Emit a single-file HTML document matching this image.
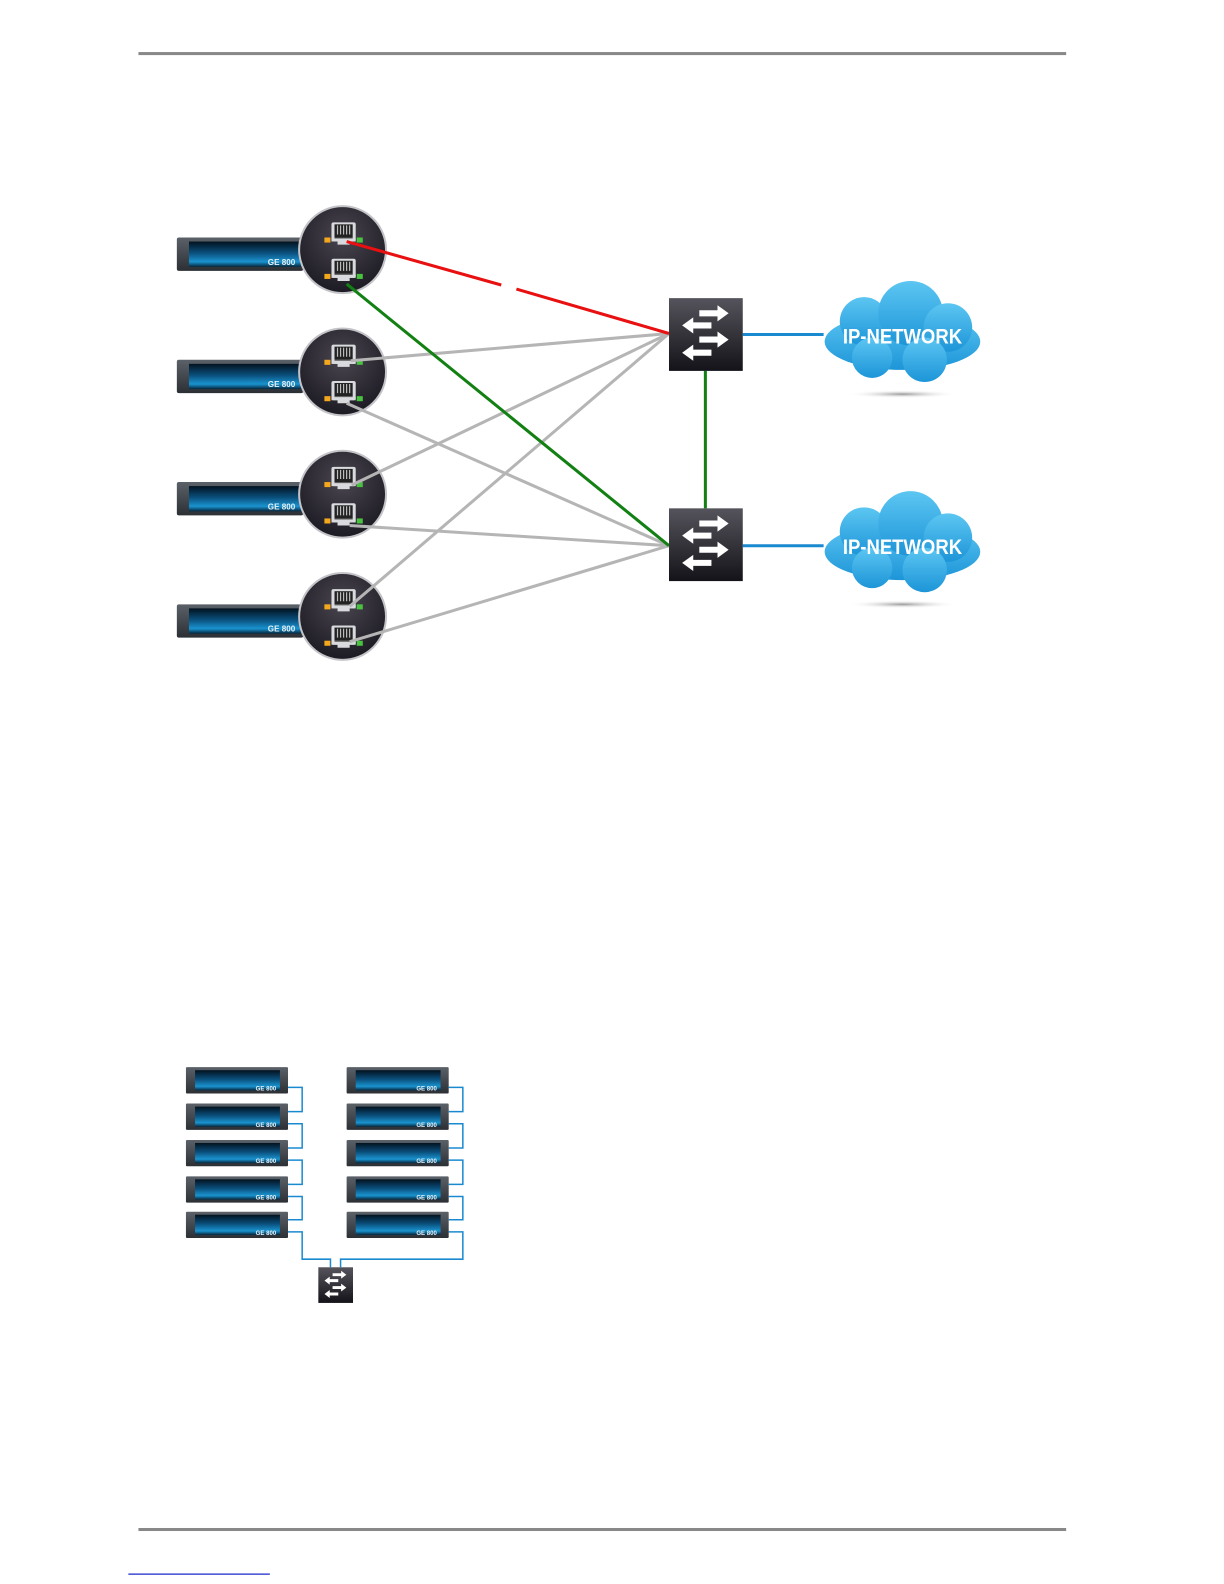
<!DOCTYPE html>
<html><head><meta charset="utf-8"><style>
html,body{margin:0;padding:0;background:#fff;}
svg{display:block;}
</style></head><body>
<svg width="1224" height="1584" viewBox="0 0 1211.2 1567.4" xmlns="http://www.w3.org/2000/svg">
<defs>
<linearGradient id="scr" x1="0" y1="0" x2="0" y2="1">
<stop offset="0" stop-color="#02121f"/><stop offset="0.45" stop-color="#0a4f7c"/><stop offset="0.8" stop-color="#1a93cf"/><stop offset="1" stop-color="#04263d"/></linearGradient>
<linearGradient id="frm" x1="0" y1="0" x2="0" y2="1">
<stop offset="0" stop-color="#5b6168"/><stop offset="1" stop-color="#2c3035"/></linearGradient>
<radialGradient id="circ" cx="0.5" cy="0.35" r="0.65">
<stop offset="0" stop-color="#4a4650"/><stop offset="1" stop-color="#1c1a22"/></radialGradient>
<linearGradient id="sw" x1="0" y1="0" x2="0" y2="1">
<stop offset="0" stop-color="#55545c"/><stop offset="1" stop-color="#141319"/></linearGradient>
<linearGradient id="cl" x1="0" y1="0" x2="0" y2="1">
<stop offset="0" stop-color="#5cc6f2"/><stop offset="1" stop-color="#1d95d8"/></linearGradient>
<radialGradient id="sh" cx="0.5" cy="0.5" r="0.5">
<stop offset="0" stop-color="#999"/><stop offset="1" stop-color="#fff" stop-opacity="0"/></radialGradient>
<g id="chas">
<rect x="0" y="0" width="125" height="33" rx="2" fill="url(#frm)"/>
<rect x="12" y="4" width="113" height="25" fill="url(#scr)"/>
</g>
<g id="chs">
<rect x="0" y="0" width="101" height="26" rx="1" fill="url(#frm)"/>
<rect x="9" y="3" width="84" height="20" fill="url(#scr)"/>
</g>
<g id="port">
<rect x="-12" y="-12" width="24" height="19" rx="2" fill="#d8dade"/>
<rect x="-9" y="-10" width="18" height="13" fill="#222"/>
<path d="M-6 -9 v9 M-3 -9 v9 M0 -9 v9 M3 -9 v9 M6 -9 v9" stroke="#bbb" stroke-width="1.2"/>
<rect x="-9" y="3" width="18" height="3" fill="#555"/>
<path d="M-12 4 h24 v3 h-6 v3 h-12 v-3 h-6z" fill="#d8dade"/>
<rect x="-19" y="3" width="6" height="5" fill="#f5a81c"/>
<rect x="13" y="3" width="6" height="5" fill="#49c23f"/>
</g>
<g id="swi">
<rect x="0" y="0" width="73" height="72" fill="url(#sw)"/>
<g fill="#fff">
<path d="M30 12 h18 v-5 l11 8 l-11 8 v-5 h-18z"/>
<path d="M42 24 h-18 v-5 l-11 8 l11 8 v-5 h18z"/>
<path d="M30 38 h18 v-5 l11 8 l-11 8 v-5 h-18z"/>
<path d="M42 51 h-18 v-5 l-11 8 l11 8 v-5 h18z"/>
</g>
</g>
<g id="cloud">
<ellipse cx="0" cy="58" rx="55" ry="4" fill="url(#sh)"/>
<g fill="url(#cl)">
<ellipse cx="0" cy="6" rx="77" ry="28"/>
<circle cx="-38" cy="-14" r="24"/>
<circle cx="8" cy="-22" r="32"/>
<circle cx="45" cy="-8" r="24"/>
<circle cx="-30" cy="22" r="20"/>
<circle cx="22" cy="24" r="22"/>
</g>
</g>
</defs>

<rect x="137" y="51.5" width="918" height="3" fill="#888"/>
<rect x="137" y="1512" width="918" height="3" fill="#888"/>
<rect x="127" y="1557" width="140" height="1.3" fill="#2233cc"/>

<g font-family="Liberation Sans, sans-serif" font-weight="bold" font-size="8" fill="#e8f2f8">
<use href="#chas" x="175" y="235"/><text x="265" y="262">GE 800</text>
<use href="#chas" x="175" y="356"/><text x="265" y="383">GE 800</text>
<use href="#chas" x="175" y="477"/><text x="265" y="504">GE 800</text>
<use href="#chas" x="175" y="598"/><text x="265" y="625">GE 800</text>
</g>
<g stroke="#c4c4c8" stroke-width="2">
<circle cx="339" cy="247" r="43" fill="url(#circ)"/>
<circle cx="339" cy="368" r="43" fill="url(#circ)"/>
<circle cx="339" cy="489" r="43" fill="url(#circ)"/>
<circle cx="339" cy="610" r="43" fill="url(#circ)"/>
</g>
<use href="#port" x="340" y="232"/><use href="#port" x="340" y="268"/>
<use href="#port" x="340" y="353"/><use href="#port" x="340" y="389"/>
<use href="#port" x="340" y="474"/><use href="#port" x="340" y="510"/>
<use href="#port" x="340" y="595"/><use href="#port" x="340" y="631"/>

<g stroke="#b5b5b5" stroke-width="3" fill="none">
<path d="M347 357 L662 330"/>
<path d="M343 399 L662 540"/>
<path d="M348 480 L662 330"/>
<path d="M346 520 L662 540"/>
<path d="M346 600 L662 330"/>
<path d="M346 635 L662 540"/>
</g>
<path d="M343 239 L496 282 M511 286 L662 330" stroke="#e81010" stroke-width="3" fill="none"/>
<path d="M343 281 L662 540" stroke="#128012" stroke-width="3" fill="none"/>
<path d="M698 367 V503" stroke="#128012" stroke-width="3"/>
<path d="M735 331 H815 M735 540 H815" stroke="#1a8ad0" stroke-width="3"/>

<use href="#swi" x="662" y="295"/>
<use href="#swi" x="662" y="503"/>

<use href="#cloud" x="893" y="332"/>
<use href="#cloud" x="893" y="540"/>
<g font-family="Liberation Sans, sans-serif" font-weight="bold" font-size="21" fill="#fff" text-anchor="middle">
<text x="893" y="340" textLength="118" lengthAdjust="spacingAndGlyphs">IP-NETWORK</text>
<text x="893" y="548" textLength="118" lengthAdjust="spacingAndGlyphs">IP-NETWORK</text>
</g>

<g stroke="#1a8ad0" stroke-width="1.5" fill="none">
<path d="M285 1076 H299 V1100 H285"/>
<path d="M285 1112 H299 V1136 H285"/>
<path d="M285 1148 H299 V1172 H285"/>
<path d="M285 1184 H299 V1207 H285"/>
<path d="M285 1219 H299 V1246 H327 V1254"/>
<path d="M444 1076 H458 V1100 H444"/>
<path d="M444 1112 H458 V1136 H444"/>
<path d="M444 1148 H458 V1172 H444"/>
<path d="M444 1184 H458 V1207 H444"/>
<path d="M444 1219 H458 V1246 H337 V1254"/>
</g>
<g font-family="Liberation Sans, sans-serif" font-weight="bold" font-size="6" fill="#e8f2f8">
<use href="#chs" x="184" y="1056"/><text x="253" y="1079">GE 800</text>
<use href="#chs" x="184" y="1092"/><text x="253" y="1115">GE 800</text>
<use href="#chs" x="184" y="1128"/><text x="253" y="1151">GE 800</text>
<use href="#chs" x="184" y="1164"/><text x="253" y="1187">GE 800</text>
<use href="#chs" x="184" y="1199"/><text x="253" y="1222">GE 800</text>
<use href="#chs" x="343" y="1056"/><text x="412" y="1079">GE 800</text>
<use href="#chs" x="343" y="1092"/><text x="412" y="1115">GE 800</text>
<use href="#chs" x="343" y="1128"/><text x="412" y="1151">GE 800</text>
<use href="#chs" x="343" y="1164"/><text x="412" y="1187">GE 800</text>
<use href="#chs" x="343" y="1199"/><text x="412" y="1222">GE 800</text>
</g>
<use href="#swi" transform="translate(315 1254) scale(0.47 0.49)"/>
</svg>
</body></html>
